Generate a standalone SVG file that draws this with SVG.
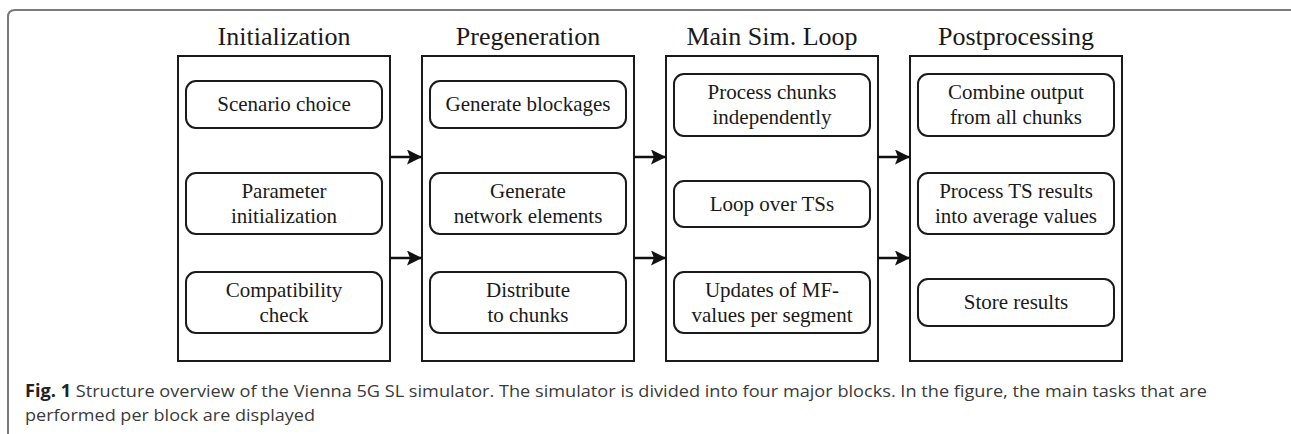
<svg xmlns="http://www.w3.org/2000/svg" width="1291" height="434" viewBox="0 0 1291 434">
  <defs>
    <marker id="arrow" markerUnits="userSpaceOnUse" markerWidth="17" markerHeight="15" refX="15" refY="7.5" orient="auto">
      <path d="M0,0 L15,7.5 L0,15 L3,7.5 Z" fill="#111"/>
    </marker>
    <style>
      .frame { fill: none; stroke: #7a7a7a; stroke-width: 2; }
      .block { fill: #fff; stroke: #1a1a1a; stroke-width: 2; }
      .task { fill: #fff; stroke: #1a1a1a; stroke-width: 2; }
      .title { font-family: "Liberation Serif", "DejaVu Serif", serif; font-size: 26px; fill: #1a1a1a; text-anchor: middle; }
      .label { font-family: "Liberation Serif", "DejaVu Serif", serif; font-size: 21px; fill: #1a1a1a; text-anchor: middle; }
      .link { stroke: #111; stroke-width: 2.5; fill: none; marker-end: url(#arrow); }
      .caption { font-family: "Open Sans", "Liberation Sans", sans-serif; font-size: 17px; fill: #3a3a3a; }
      .caption .bold { font-weight: bold; fill: #222; }
    </style>
  </defs>

  <rect width="1291" height="434" fill="#fff"/>

  <!-- figure frame: top and left rule with rounded corner -->
  <path class="frame" d="M8,434 L8,17 Q8,10 15,10 L1291,10"/>

  <!-- Initialization -->
  <g id="initialization">
    <text class="title" x="284" y="45">Initialization</text>
    <rect class="block" x="178" y="56" width="212" height="305"/>
    <rect class="task" x="186" y="81" width="196" height="47" rx="10"/>
    <text class="label" x="284" y="111">Scenario choice</text>
    <rect class="task" x="186" y="173" width="196" height="61" rx="10"/>
    <text class="label" x="284" y="198">Parameter</text>
    <text class="label" x="284" y="223">initialization</text>
    <rect class="task" x="186" y="272" width="196" height="61" rx="10"/>
    <text class="label" x="284" y="297">Compatibility</text>
    <text class="label" x="284" y="322">check</text>
  </g>

  <!-- Pregeneration -->
  <g id="pregeneration">
    <text class="title" x="528" y="45">Pregeneration</text>
    <rect class="block" x="422" y="56" width="212" height="305"/>
    <rect class="task" x="430" y="81" width="196" height="47" rx="10"/>
    <text class="label" x="528" y="111">Generate blockages</text>
    <rect class="task" x="430" y="173" width="196" height="61" rx="10"/>
    <text class="label" x="528" y="198">Generate</text>
    <text class="label" x="528" y="223">network elements</text>
    <rect class="task" x="430" y="272" width="196" height="61" rx="10"/>
    <text class="label" x="528" y="297">Distribute</text>
    <text class="label" x="528" y="322">to chunks</text>
  </g>

  <!-- Main simulation loop -->
  <g id="main-loop">
    <text class="title" x="772" y="45">Main Sim. Loop</text>
    <rect class="block" x="666" y="56" width="212" height="305"/>
    <rect class="task" x="674" y="74" width="196" height="62" rx="10"/>
    <text class="label" x="772" y="99">Process chunks</text>
    <text class="label" x="772" y="124">independently</text>
    <rect class="task" x="674" y="181" width="196" height="46" rx="10"/>
    <text class="label" x="772" y="210.5">Loop over TSs</text>
    <rect class="task" x="674" y="272" width="196" height="61" rx="10"/>
    <text class="label" x="772" y="297">Updates of MF-</text>
    <text class="label" x="772" y="322">values per segment</text>
  </g>

  <!-- Postprocessing -->
  <g id="postprocessing">
    <text class="title" x="1016" y="45">Postprocessing</text>
    <rect class="block" x="910" y="56" width="212" height="305"/>
    <rect class="task" x="918" y="74" width="196" height="62" rx="10"/>
    <text class="label" x="1016" y="99">Combine output</text>
    <text class="label" x="1016" y="124">from all chunks</text>
    <rect class="task" x="918" y="173" width="196" height="61" rx="10"/>
    <text class="label" x="1016" y="198">Process TS results</text>
    <text class="label" x="1016" y="223">into average values</text>
    <rect class="task" x="918" y="279" width="196" height="47" rx="10"/>
    <text class="label" x="1016" y="309">Store results</text>
  </g>

  <!-- connectors between blocks -->
  <g id="connectors">
    <line class="link" x1="390" y1="157" x2="422" y2="157"/>
    <line class="link" x1="390" y1="258" x2="422" y2="258"/>
    <line class="link" x1="634" y1="157" x2="666" y2="157"/>
    <line class="link" x1="634" y1="258" x2="666" y2="258"/>
    <line class="link" x1="878" y1="157" x2="910" y2="157"/>
    <line class="link" x1="878" y1="258" x2="910" y2="258"/>
  </g>

  <!-- caption -->
  <g id="caption">
    <text class="caption" x="25" y="397" textLength="1182" lengthAdjust="spacingAndGlyphs"><tspan class="bold">Fig. 1</tspan> Structure overview of the Vienna 5G SL simulator. The simulator is divided into four major blocks. In the figure, the main tasks that are</text>
    <text class="caption" x="25" y="421" textLength="290" lengthAdjust="spacingAndGlyphs">performed per block are displayed</text>
  </g>
</svg>
